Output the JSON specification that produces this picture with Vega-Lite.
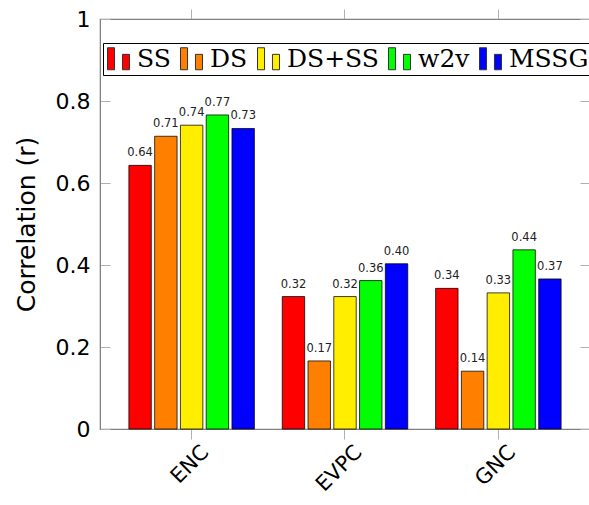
{
  "$schema": "https://vega.github.io/schema/vega-lite/v6.json",
  "width": 490,
  "height": 410,
  "autosize": {"type": "none"},
  "padding": {"left": 100, "top": 19, "right": 0, "bottom": 76},
  "background": "white",
  "config": {
    "view": {"stroke": "#808080", "strokeWidth": 1.2},
    "axis": {"domainColor": "#808080", "tickColor": "#b0b0b0", "grid": false, "labelColor": "black", "titleColor": "black", "labelFont": "DejaVu Sans", "titleFont": "DejaVu Sans", "titleFontWeight": "normal"}
  },
  "data": {
    "values": [
      {"dataset": "ENC", "model": "SS", "r": 0.643},
      {"dataset": "ENC", "model": "DS", "r": 0.714},
      {"dataset": "ENC", "model": "DS+SS", "r": 0.741},
      {"dataset": "ENC", "model": "w2v", "r": 0.766},
      {"dataset": "ENC", "model": "MSSG", "r": 0.733},
      {"dataset": "EVPC", "model": "SS", "r": 0.323},
      {"dataset": "EVPC", "model": "DS", "r": 0.166},
      {"dataset": "EVPC", "model": "DS+SS", "r": 0.323},
      {"dataset": "EVPC", "model": "w2v", "r": 0.362},
      {"dataset": "EVPC", "model": "MSSG", "r": 0.403},
      {"dataset": "GNC", "model": "SS", "r": 0.343},
      {"dataset": "GNC", "model": "DS", "r": 0.141},
      {"dataset": "GNC", "model": "DS+SS", "r": 0.332},
      {"dataset": "GNC", "model": "w2v", "r": 0.437},
      {"dataset": "GNC", "model": "MSSG", "r": 0.366}
    ]
  },
  "encoding": {
    "x": {"field": "dataset", "type": "nominal", "sort": ["ENC", "EVPC", "GNC"], "scale": {"paddingInner": 0.175, "paddingOuter": 0.185}},
    "xOffset": {"field": "model", "type": "nominal", "sort": ["SS", "DS", "DS+SS", "w2v", "MSSG"], "scale": {"paddingInner": 0.13, "paddingOuter": 0.02}},
    "y": {"field": "r", "type": "quantitative", "scale": {"domain": [0, 1], "nice": false, "zero": true}}
  },
  "layer": [
    {
      "mark": {"type": "bar", "stroke": "#000", "strokeWidth": 1, "strokeOpacity": 0.75},
      "encoding": {
        "x": {"field": "dataset", "type": "nominal", "sort": ["ENC", "EVPC", "GNC"],
          "axis": {"orient": "bottom", "title": null, "labelAngle": -45, "labelAlign": "right", "labelBaseline": "middle", "labelFontSize": 21, "labelPadding": 10, "labelOffset": 14, "tickSize": 10, "domainColor": "#808080"}},
        "y": {"field": "r", "type": "quantitative",
          "axis": {"orient": "left", "title": "Correlation (r)", "titleFontSize": 25, "titlePadding": 16, "values": [0, 0.2, 0.4, 0.6, 0.8, 1], "format": "~g", "labelFontSize": 22, "tickSize": -10, "labelPadding": 20}},
        "color": {"field": "model", "type": "nominal", "sort": ["SS", "DS", "DS+SS", "w2v", "MSSG"],
          "scale": {"domain": ["SS", "DS", "DS+SS", "w2v", "MSSG"], "range": ["#ff0000", "#ff8000", "#ffee00", "#00ff00", "#0000ff"]},
          "legend": {"title": null, "orient": "none", "legendX": 3, "legendY": 24, "direction": "horizontal", "columns": 5,
            "symbolType": "M-1,-1H-0.36V1H-1Z M0.36,-0.4H1V1H0.36Z", "symbolSize": 484, "symbolStrokeColor": "#333", "symbolStrokeWidth": 1, "symbolOpacity": 1,
            "labelFont": "DejaVu Serif", "labelFontSize": 25, "labelColor": "black", "labelOffset": 6, "columnPadding": 7, "padding": 3, "labelLimit": 0,
            "strokeColor": "black", "fillColor": "white"}}
      }
    },
    {
      "mark": {"type": "text", "dy": -9, "baseline": "alphabetic", "fontSize": 11.5, "font": "DejaVu Sans", "color": "#222"},
      "encoding": {
        "x": {"field": "dataset", "type": "nominal", "sort": ["ENC", "EVPC", "GNC"], "axis": null},
        "y": {"field": "r", "type": "quantitative", "axis": null},
        "text": {"field": "r", "type": "quantitative", "format": ".2f"}
      }
    },
    {
      "mark": {"type": "bar", "opacity": 0},
      "encoding": {
        "x": {"field": "dataset", "type": "nominal", "sort": ["ENC", "EVPC", "GNC"], "axis": {"orient": "top", "title": null, "labels": false, "tickSize": 10}},
        "y": {"field": "r", "type": "quantitative", "axis": {"orient": "right", "title": null, "labels": false, "values": [0, 0.2, 0.4, 0.6, 0.8, 1], "tickSize": -10}}
      }
    }
  ],
  "resolve": {"axis": {"x": "independent", "y": "independent"}}
}
